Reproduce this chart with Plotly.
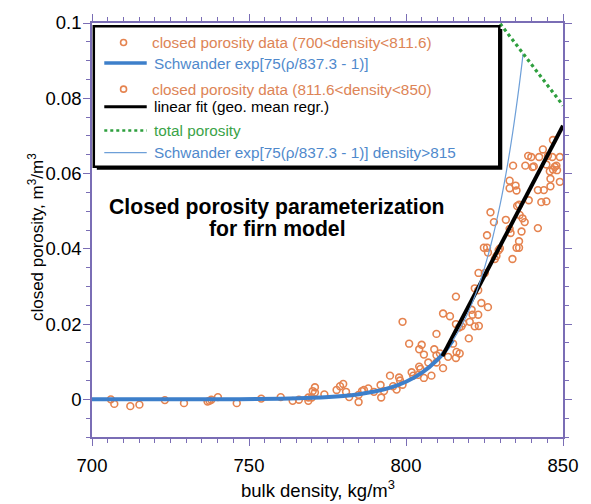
import plotly.graph_objects as go

# ---------------- data ----------------
# closed porosity measurements (density kg/m3, closed porosity m3/m3)
dens_data = [706.0, 707.1, 712.2, 715.1, 723.2, 729.3, 736.8, 737.4, 738.0, 740.1,
             746.1, 753.9, 760.1, 763.9, 765.9, 768.9, 768.9, 770.0, 770.3, 771.0,
             771.0, 774.0, 777.9, 779.0, 780.0, 780.9, 781.9, 784.9, 784.9, 786.0,
             786.6, 788.0, 789.8, 791.9, 792.1, 793.0, 794.9,
             795.9, 797.0, 797.8, 798.1, 798.9, 801.0, 801.8, 802.3, 803.9, 804.2,
             804.6, 805.7, 804.2, 805.0, 805.7, 807.1, 808.1, 809.0, 809.7, 809.7,
             810.8, 811.8, 813.4, 798.9,
             809.7, 811.8, 814.0, 815.0, 815.9, 815.9, 816.1, 817.1, 816.9, 817.7,
             818.2, 820.0, 820.3, 820.9, 821.2, 821.9, 823.0, 823.2, 824.0, 826.1,
             815.9, 823.0, 821.9, 825.1, 823.1, 824.8, 825.8, 826.1, 825.8, 826.9,
             828.0, 828.3, 828.8, 829.5, 829.9, 831.8, 833.0, 833.3, 833.9, 834.1,
             833.0, 833.0, 834.9, 835.2, 835.4, 836.0, 836.2, 835.2, 836.0, 836.0,
             836.8, 837.1, 837.8, 838.0, 838.9, 839.9, 840.3, 840.7, 839.1, 842.0,
             842.0, 842.4, 843.6, 843.9, 843.1, 844.7, 844.7, 845.2, 845.8, 846.0,
             846.0, 846.6, 846.8, 846.8, 847.4, 847.9, 848.1, 849.0, 849.0]
poro_data = [0.0000, -0.0012, -0.0018, -0.0014, -0.0002, -0.0010, -0.0006, -0.0004, -0.0001, 0.0006,
             -0.0010, 0.0002, 0.0006, -0.0004, -0.0001, 0.0005, -0.0004, 0.0005, 0.0022, 0.0032,
             0.0018, 0.0013, 0.0025, 0.0035, 0.0041, 0.0020, 0.0006, -0.0007, 0.0012, 0.0022,
             0.0025, 0.0029, 0.0020, 0.0038, 0.0005, 0.0022, 0.0063,
             0.0035, 0.0026, 0.0058, 0.0050, 0.0039, 0.0148, 0.0072, 0.0063, 0.0065, 0.0087,
             0.0081, 0.0057, 0.0133, 0.0145, 0.0119, 0.0098, 0.0063, 0.0133, 0.0117, 0.0098,
             0.0122, 0.0083, 0.0113, 0.0206,
             0.0174, 0.0228, 0.0221, 0.0148, 0.0200, 0.0110, 0.0126, 0.0122, 0.0191, 0.0194,
             0.0202, 0.0162, 0.0206, 0.0238, 0.0225, 0.0194, 0.0225, 0.0195, 0.0256, 0.0245,
             0.0273, 0.0290, 0.0295, 0.0336, 0.0336, 0.0403, 0.0403, 0.0390, 0.0436, 0.0497,
             0.0471, 0.0373, 0.0381, 0.0396, 0.0401, 0.0477, 0.0453, 0.0442, 0.0373, 0.0621,
             0.0581, 0.0561, 0.0568, 0.0555, 0.0514, 0.0517, 0.0490, 0.0403, 0.0403, 0.0420,
             0.0446, 0.0481, 0.0471, 0.0621, 0.0647, 0.0644, 0.0617, 0.0619, 0.0529, 0.0455,
             0.0556, 0.0644, 0.0664, 0.0556, 0.0524, 0.0526, 0.0624, 0.0647, 0.0606, 0.0566,
             0.0586, 0.0644, 0.0689, 0.0611, 0.0618, 0.0621, 0.0609, 0.0644, 0.0578]
split_density = 811.6

# Schwander parameterization curve (thick, up to 815)
schw_x = [700, 720, 740, 760, 770, 780, 785, 790, 795, 800, 805, 810, 812.5, 815]
schw_y = [0.0, 0.00001, 0.00003, 0.00017, 0.00040, 0.00091, 0.00137, 0.00207,
          0.00311, 0.00468, 0.00703, 0.01053, 0.01288, 0.01575]
# Schwander curve for density > 815 (thin)
schw2_x = [815, 818, 821, 824, 827, 830, 832, 834, 836, 837.3]
schw2_y = [0.01575, 0.02002, 0.02544, 0.03229, 0.04095, 0.05189, 0.06072, 0.07102, 0.08303, 0.09187]
# linear fit (geometric mean regression)
fit_x = [811.6, 850]
fit_y = [0.0115, 0.0727]
# total porosity
tot_x = [830, 850]
tot_y = [0.0998, 0.0781]

x_range = [700, 850]
x_major, x_minor = 50, 5
y_range = [-0.01, 0.1]
y_major, y_minor = 0.02, 0.005

legend_labels = [
    "closed porosity data (700<density<811.6)",
    "Schwander exp[75(\u03c1/837.3 - 1)]",
    "closed porosity data (811.6<density<850)",
    "linear fit (geo. mean regr.)",
    "total porosity",
    "Schwander exp[75(\u03c1/837.3 - 1)] density>815",
]
x_title = "bulk density, kg/m<sup>3</sup>"
y_title = "closed porosity, m<sup>3</sup>/m<sup>3</sup>"
chart_title = ["<b>Closed porosity parameterization</b>", "<b>for firn model</b>"]

# ---------------- styles ----------------
FONT = "Liberation Sans, Arial, Helvetica, sans-serif"
AXC = "#7a6db5"
ORANGE = "#e5834f"
ORANGE_T = "#dd8456"
BLUE = "#3d7fca"
BLUE_T = "#4f89cc"
THIN = "#6d9fd8"
GREEN = "#2e9f3e"
GREEN_T = "#3aa347"

W, H = 591, 504
L, R, T, B = 91.7, 27.7, 13.3, 67.0
PW, PH = W - L - R, H - T - B


def u(px):
    return (px - L) / PW


def v(py):
    return (H - B - py) / PH


lo_x = [d for d in dens_data if d < split_density]
lo_y = [p for d, p in zip(dens_data, poro_data) if d < split_density]
hi_x = [d for d in dens_data if d >= split_density]
hi_y = [p for d, p in zip(dens_data, poro_data) if d >= split_density]

marker = dict(symbol="circle-open", size=6.8, color=ORANGE, line=dict(width=1.6, color=ORANGE))

fig = go.Figure()
fig.add_trace(go.Scatter(x=lo_x, y=lo_y, mode="markers", marker=marker, name=legend_labels[0]))
fig.add_trace(go.Scatter(x=hi_x, y=hi_y, mode="markers", marker=marker, name=legend_labels[2]))
fig.add_trace(go.Scatter(x=schw_x, y=schw_y, mode="lines", line=dict(color=BLUE, width=4, shape="spline"),
                         name=legend_labels[1]))
fig.add_trace(go.Scatter(x=fit_x, y=fit_y, mode="lines", line=dict(color="black", width=4),
                         name=legend_labels[3]))
fig.add_trace(go.Scatter(x=schw2_x, y=schw2_y, mode="lines", line=dict(color=THIN, width=1.2, shape="spline"),
                         name=legend_labels[5]))
fig.add_trace(go.Scatter(x=tot_x, y=tot_y, mode="lines", line=dict(color=GREEN, width=3.2, dash="dot"),
                         name=legend_labels[4]))

shapes = []
annotations = []

# legend box with drop shadow
bx0, bx1, by0, by1 = 93.5, 499.5, 16.5, 160.5
shapes.append(dict(type="rect", xref="paper", yref="paper", x0=u(bx0 + 3), x1=u(bx1 + 3),
                   y0=v(by1 + 3), y1=v(by0 + 3), fillcolor="black", line=dict(width=0), layer="above"))
shapes.append(dict(type="rect", xref="paper", yref="paper", x0=u(bx0), x1=u(bx1),
                   y0=v(by1), y1=v(by0), fillcolor="white", line=dict(color="black", width=2.5), layer="above"))

item_y = [33.3, 54.3, 81.0, 99.0, 123.3, 146.0]
item_col = [ORANGE_T, BLUE_T, ORANGE_T, "black", GREEN_T, BLUE_T]
text_x = [149.3, 151.7, 149.3, 151.7, 151.7, 151.7]
for i, yy in enumerate(item_y):
    annotations.append(dict(xref="paper", yref="paper", x=u(text_x[i]), y=v(yy), xanchor="left",
                            yanchor="middle", showarrow=False, text=legend_labels[i],
                            font=dict(family=FONT, size=15.3, color=item_col[i])))
# symbols
for yy in (item_y[0], item_y[2]):
    shapes.append(dict(type="circle", xref="paper", yref="paper", xsizemode="pixel", ysizemode="pixel",
                       xanchor=u(123.3), yanchor=v(yy), x0=-3, x1=3, y0=-3, y1=3,
                       line=dict(color=ORANGE, width=1.6), fillcolor="rgba(0,0,0,0)", layer="above"))
line_specs = [(item_y[1], BLUE, 3.5, "solid"), (item_y[3], "black", 3, "solid"),
              (item_y[4], GREEN, 2.5, "dot"), (item_y[5], THIN, 1.3, "solid")]
for yy, c, w, d in line_specs:
    shapes.append(dict(type="line", xref="paper", yref="paper", x0=u(104), x1=u(146.5), y0=v(yy), y1=v(yy),
                       line=dict(color=c, width=w, dash=d), layer="above"))

# chart title inside plot
annotations.append(dict(xref="paper", yref="paper", x=u(276.7), y=v(202), xanchor="center", yanchor="middle",
                        showarrow=False, text=chart_title[0],
                        font=dict(family=FONT, size=21.2, color="black")))
annotations.append(dict(xref="paper", yref="paper", x=u(277.5), y=v(224), xanchor="center", yanchor="middle",
                        showarrow=False, text=chart_title[1],
                        font=dict(family=FONT, size=21.2, color="black")))

# axis titles
annotations.append(dict(xref="paper", yref="paper", x=u(318), y=v(490), xanchor="center", yanchor="middle",
                        showarrow=False, text=x_title, font=dict(family=FONT, size=18.5, color="black")))
annotations.append(dict(xref="paper", yref="paper", x=u(35), y=v(232), xanchor="center", yanchor="middle",
                        showarrow=False, text=y_title, textangle=-90,
                        font=dict(family=FONT, size=17, color="black")))

axis_common = dict(showline=True, linecolor=AXC, linewidth=1.5, mirror="ticks", ticks="outside",
                   ticklen=7, tickwidth=1.3, tickcolor=AXC, showgrid=False, zeroline=False,
                   tickfont=dict(family=FONT, size=18.5, color="black"))

fig.update_layout(
    width=W, height=H,
    margin=dict(l=L, r=R, t=T, b=B, pad=0),
    paper_bgcolor="white", plot_bgcolor="white",
    showlegend=False,
    shapes=shapes, annotations=annotations,
    xaxis=dict(range=x_range, tick0=x_range[0], dtick=x_major, **axis_common,
               minor=dict(dtick=x_minor, ticklen=4, tickcolor=AXC, tickwidth=1.1, ticks="outside",
                          showgrid=False),
               ticklabelstandoff=4),
    yaxis=dict(range=y_range, tick0=0, dtick=y_major, **axis_common,
               minor=dict(dtick=y_minor, ticklen=4, tickcolor=AXC, tickwidth=1.1, ticks="outside",
                          showgrid=False),
               ticklabelstandoff=-2),
)

fig.write_html("out.html")
